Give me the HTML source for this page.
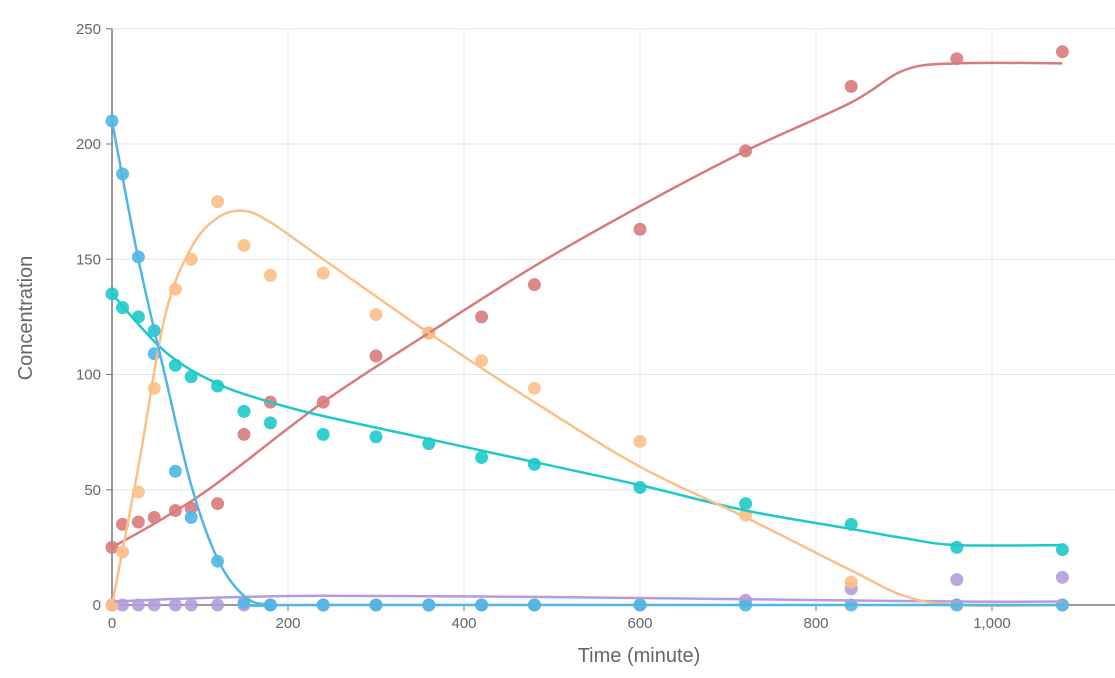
<!DOCTYPE html>
<html><head><meta charset="utf-8"><style>
html,body{margin:0;padding:0;background:#fff;}
svg text{font-family:"Liberation Sans",sans-serif;fill:#666;}
</style></head><body>
<svg id="chart" width="1115" height="673" xmlns="http://www.w3.org/2000/svg">
<g id="grid"></g>
<g id="axes"></g>
<g id="series"></g>
<text x="639" y="662" text-anchor="middle" font-size="20">Time (minute)</text>
<text transform="translate(32,318) rotate(-90)" text-anchor="middle" font-size="20">Concentration</text>
</svg>
<script>
const times=[0,12,30,48,72,90,120,150,180,240,300,360,420,480,600,720,840,960,1080];
const seriesNames=['blue','orange','teal','red','purple'];
const blueVals=[210,187,151,109,58,38,19,1,0,0,0,0,0,0,0,0,0,0,0];
const orangeVals=[0,23,49,94,137,150,175,156,143,144,126,118,106,94,71,39,10,0,0];
const tealVals=[135,129,125,119,104,99,95,84,79,74,73,70,64,61,51,44,35,25,24];
const redVals=[25,35,36,38,41,42,44,74,88,88,108,118,125,139,163,197,225,237,240];
const purpleVals=[0,0,0,0,0,0,0,0,0,0,0,0,0,0,0,2,7,11,12];
const blueFitT=[0,30,60,90,120,150,180,240,1080];
const blueFitV=[210,150,100,52,20,4,0,0,0];
const orangeFitT=[0,30,60,90,120,150,180,240,360,480,600,720,840,900,960,1080];
const orangeFitV=[0,60,125,155,168,171,166,150,118,88,60,38,15,4,0,0];
const tealFitT=[0,60,120,180,240,360,480,600,720,840,900,960,1080];
const tealFitV=[135,110,96,88,82,72,62,52,41,33,29,26,26];
const redFitT=[0,60,120,240,360,480,600,720,840,900,960,1080];
const redFitV=[25,38,53,88,118,147,173,197,218,232,235,235];
const purpleFitT=[0,100,240,480,720,960,1080];
const purpleFitV=[1.5,3,4,3.5,2.5,1.5,1.5];
const xTicks=[0,200,400,600,800,1000];
const xTickLabels=['0','200','400','600','800','1,000'];
const yTicks=[0,50,100,150,200,250];
const colors={blue:'#4fb6e6',orange:'#fdbf88',teal:'#1ec9c9',red:'#d97b7b',purple:'#b49ddc'};
const X=v=>112+v*0.88, Y=v=>605-v*2.305;
const NS='http://www.w3.org/2000/svg';
function mk(tag,attrs,parent){const e=document.createElementNS(NS,tag);for(const k in attrs)e.setAttribute(k,attrs[k]);parent.appendChild(e);return e;}
const grid=document.getElementById('grid'),axes=document.getElementById('axes'),ser=document.getElementById('series');
yTicks.forEach(t=>{
 if(t>0){const l=mk('line',{x1:112,x2:1115,y1:Y(t),y2:Y(t),stroke:'#e2e7f4'},grid);
 
 }
 const tk=mk('line',{x1:106,x2:112,y1:Y(t),y2:Y(t),stroke:'#777'},axes);
 
 
 const tx=mk('text',{x:101,y:Y(t)+5,'text-anchor':'end','font-size':15},axes);tx.textContent=t;
 
 
});
xTicks.forEach((t,i)=>{
 if(t>0){const l=mk('line',{x1:X(t),x2:X(t),y1:Y(250),y2:605,stroke:'#e2e7f4'},grid);
 
 }
 const tk=mk('line',{x1:X(t),x2:X(t),y1:605,y2:611,stroke:'#777'},axes);
 
 
 const tx=mk('text',{x:X(t),y:628,'text-anchor':'middle','font-size':15},axes);tx.textContent=xTickLabels[i];
 
 
});
const ya=mk('line',{x1:112,x2:112,y1:Y(250),y2:605,stroke:'#777','stroke-width':1.5},axes);


const xa=mk('line',{x1:112,x2:1115,y1:605,y2:605,stroke:'#777','stroke-width':1.5},axes);


function curve(ts,vs){const p=ts.map((t,i)=>[X(t),Y(vs[i])]);let d='M'+p[0][0]+','+p[0][1];
 for(let i=0;i<p.length-1;i++){const p0=p[i-1]||p[i],p1=p[i],p2=p[i+1],p3=p[i+2]||p2;
  const c1=[p1[0]+(p2[0]-p0[0])/6,p1[1]+(p2[1]-p0[1])/6],c2=[p2[0]-(p3[0]-p1[0])/6,p2[1]-(p3[1]-p1[1])/6];
  d+=` C${c1[0]},${c1[1]} ${c2[0]},${c2[1]} ${p2[0]},${p2[1]}`;}return d;}
const vals={blue:blueVals,orange:orangeVals,teal:tealVals,red:redVals,purple:purpleVals};
const fits={blue:[blueFitT,blueFitV],orange:[orangeFitT,orangeFitV],teal:[tealFitT,tealFitV],red:[redFitT,redFitV],purple:[purpleFitT,purpleFitV]};
['purple','red','teal','orange','blue'].forEach(n=>{
 times.forEach((t,i)=>{const c=mk('circle',{cx:X(t),cy:Y(vals[n][i]),r:6.5,fill:colors[n],'fill-opacity':0.9},ser);
  
  });
});
['purple','red','teal','orange','blue'].forEach(n=>{
 const p=mk('path',{d:curve(fits[n][0],fits[n][1]),fill:'none',stroke:colors[n],'stroke-width':2.5},ser);
 
 
});
</script>
</body></html>
